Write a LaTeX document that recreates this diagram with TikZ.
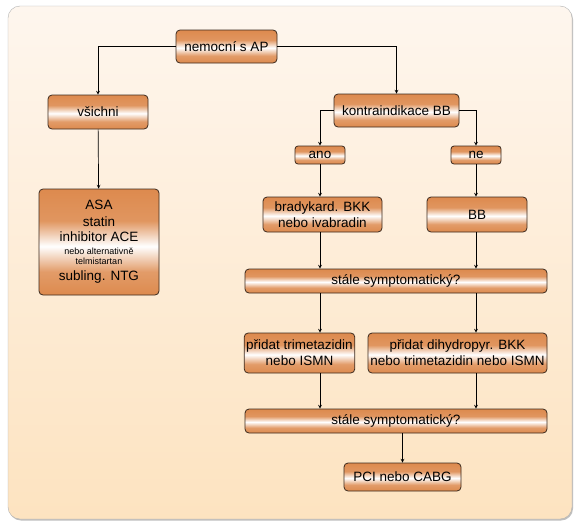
\documentclass[tikz,border=0pt]{standalone}
\usepackage{fontspec}
\setmainfont{Liberation Sans}
\usepackage{tikz}
\usetikzlibrary{calc}
\definecolor{boxorange}{RGB}{221,138,78}
\definecolor{boxline}{RGB}{60,42,30}
\definecolor{paneltop}{RGB}{254,246,238}
\definecolor{panelbot}{RGB}{253,227,192}
\pgfdeclareverticalshading{boxshade}{100bp}{color(0bp)=(boxorange); color(25bp)=(boxorange); color(36bp)=(boxorange!85!white); color(48bp)=(white); color(60bp)=(boxorange!90!white); color(75bp)=(boxorange); color(100bp)=(boxorange)}

\begin{document}
\begin{tikzpicture}[x=1pt,y=-1pt,>=stealth,
    box/.style={draw=boxline,line width=.8pt,rounded corners=4pt,shading=boxshade,
      align=center,inner sep=2pt,font=\fontsize{13.5}{16}\selectfont},
    arr/.style={->,line width=.7pt}]
  % background
  \useasboundingbox (0,0) rectangle (580,525);
  \fill[white] (0,0) rectangle (580,525);
  \fill[black!25,rounded corners=12pt] (9,7.5) rectangle (573,520.5);
  \shade[top color=paneltop,bottom color=panelbot,draw=black!30,rounded corners=12pt] (8,6) rectangle (572,519);
  % left branch
  \node[box,minimum width=101,minimum height=33] (ap) at (226.5,46.5) {nemocní s AP};
  \node[box,minimum width=100,minimum height=34] (all) at (98,112) {všichni};
  \node[box,minimum width=120,minimum height=106] (asa) at (99,242)
    {ASA\\[1pt]statin\\[-1pt]inhibitor ACE\\[-3pt]{\fontsize{9}{10}\selectfont nebo alternativně}\\[-6pt]{\fontsize{9}{10}\selectfont telmistartan}\\[0pt]subling. NTG};
  % right branch
  \node[box,minimum width=125,minimum height=33] (ci) at (396.5,110.5) {kontraindikace BB};
  \node[box,minimum width=50,minimum height=18,rounded corners=3pt] (yes) at (320,155) {ano};
  \node[box,minimum width=50,minimum height=18,rounded corners=3pt] (no) at (476,155) {ne};
  \node[box,minimum width=119,minimum height=35] (brady) at (322.5,214.5) {bradykard. BKK\\nebo ivabradin};
  \node[box,minimum width=100,minimum height=35] (bb) at (477,214.5) {BB};
  \node[box,minimum width=302,minimum height=24] (st1) at (396,281) {stále symptomatický?};
  \node[box,minimum width=109,minimum height=40] (trim) at (299.5,353) {přidat trimetazidin\\nebo ISMN};
  \node[box,minimum width=179,minimum height=40] (dihyd) at (457.5,353) {přidat dihydropyr. BKK\\nebo trimetazidin nebo ISMN};
  \node[box,minimum width=302,minimum height=24] (st2) at (396,421) {stále symptomatický?};
  \node[box,minimum width=117,minimum height=28] (pci) at (402.5,477) {PCI nebo CABG};
  % arrows
  \draw[arr] (ap.west) -| (all.north);
  \draw[arr] (ap.east) -| (ci.north);
  \draw[arr] (all) -- (asa);
  \draw[arr] (ci.west) -| (yes.north);
  \draw[arr] (ci.east) -| (no.north);
  \foreach \c in {yes,no} {
    \draw[arr] (\c.south) -- (\c |- brady.north);
    \draw[arr] (\c |- brady.south) -- (\c |- st1.north);
    \draw[arr] (\c |- st1.south) -- (\c |- trim.north);
    \draw[arr] (\c |- trim.south) -- (\c |- st2.north);
  }
  \draw[arr] (st2.south -| pci) -- (pci.north);
\end{tikzpicture}
\end{document}
